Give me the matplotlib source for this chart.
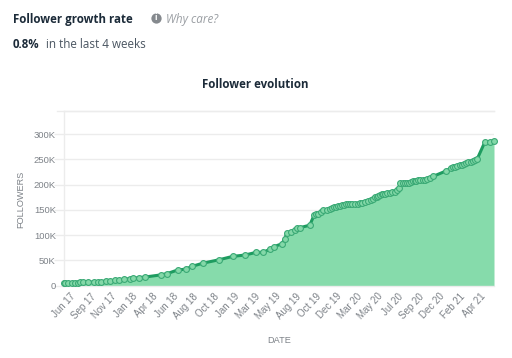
# -*- coding: utf-8 -*-
import matplotlib
matplotlib.use('Agg')
import matplotlib.pyplot as plt

# ================================== DATA =================================== #
# days since the first point, followers in thousands
DAYS = [0, 6, 17, 28, 40, 49, 57, 66, 86, 106, 118, 129, 145, 160, 178, 193,
        209, 229, 241, 260, 283, 335, 358, 395, 422, 442, 482, 537, 584, 627,
        665, 690, 712, 727, 753, 764, 770, 784, 799, 807, 818, 850, 865, 872,
        879, 888, 896, 908, 919, 926, 933, 941, 948, 954, 960, 968, 975, 982,
        988, 997, 1006, 1015, 1023, 1032, 1040, 1052, 1063, 1069, 1075, 1081,
        1086, 1092, 1098, 1104, 1109, 1118, 1126, 1135, 1144, 1152, 1158,
        1163, 1171, 1178, 1186, 1193, 1199, 1205, 1212, 1218, 1225, 1232,
        1240, 1247, 1256, 1265, 1276, 1320, 1336, 1343, 1351, 1360, 1368,
        1375, 1382, 1390, 1397, 1405, 1414, 1421, 1428, 1454, 1472, 1486]
FOLLOWERS = [4.7, 4.9, 5.0, 5.3, 5.6, 6.0, 6.6, 6.7, 6.8, 7.3, 7.4, 7.6, 9.3,
             9.8, 10.7, 11.3, 12.7, 14.0, 14.7, 16.0, 17.3, 21.3, 24.0, 31.3,
             32.7, 38.0, 44.7, 51.3, 58.0, 60.7, 66.0, 66.1, 72.1, 77.4, 82.7,
             92.6, 103.8, 106.5, 110.5, 113.8, 115.1, 119.7, 139.6, 141.0,
             142.2, 145.5, 148.8, 150.1, 152.1, 153.8, 155.4, 156.4, 157.4,
             158.4, 159.4, 160.5, 161.4, 161.8, 162.0, 162.0, 162.0, 162.3,
             162.7, 164.3, 166.0, 168.0, 170.0, 172.5, 174.6, 176.3, 177.9,
             179.3, 180.6, 181.3, 181.9, 182.6, 183.2, 184.5, 185.8, 189.0,
             193.0, 202.4, 202.4, 202.4, 202.4, 202.4, 204.5, 206.3, 207.0,
             207.7, 208.7, 209.7, 209.7, 209.7, 211.0, 212.3, 216.3, 226.9,
             232.8, 234.2, 235.4, 236.8, 238.1, 239.4, 240.7, 242.8, 244.7,
             245.3, 246.0, 248.2, 250.7, 283.7, 285.0, 286.3]
TICK_LABELS = ['Jun 17', 'Sep 17', 'Nov 17', 'Jan 18', 'Apr 18', 'Jun 18',
               'Aug 18', 'Oct 18', 'Jan 19', 'Mar 19', 'May 19', 'Aug 19',
               'Oct 19', 'Dec 19', 'Mar 20', 'May 20', 'Jul 20', 'Sep 20',
               'Dec 20', 'Feb 21', 'Apr 21']
Y_TICKS = [0, 50, 100, 150, 200, 250, 300]
Y_LABELS = ['0', '50K', '100K', '150K', '200K', '250K', '300K']

# ================================== STYLE ================================== #
W, H     = 512, 358
DARK     = '#1c2b39'
GRAY     = '#7d8288'
GRID     = '#ececec'
FILL     = '#86dbab'
LINE     = '#1e9c60'
DOT      = '#84d8a8'
HEADFONT = 'Open Sans'
AXISFONT = 'Liberation Sans'

# ================================== MAIN =================================== #
fig = plt.figure(figsize=(W/100, H/100), dpi=100)

# Plot area in pixels: left 63.5, right 494, top 111.3, bottom 285.7
ax = fig.add_axes([63.5/W, 1 - 285.7/H, (494 - 63.5)/W, (285.7 - 111.3)/H])
ax.set_xlim(0, 1486)
ax.set_ylim(0, 345)

ax.fill_between(DAYS, FOLLOWERS, 0, color=FILL, lw=0, zorder=2)
ax.plot(DAYS, FOLLOWERS, color=LINE, lw=2.2, zorder=3, clip_on=False)
ax.plot(DAYS, FOLLOWERS, ls='none', marker='o', ms=4.2, mfc=DOT, mec='#3aa975',
        mew=0.8, zorder=4, clip_on=False)

# Ticks sit evenly along the axis, one per label
step  = 70.7
ticks = [23 + step*i for i in range(len(TICK_LABELS))]
ax.set_xticks(ticks)
ax.set_xticklabels(TICK_LABELS, rotation=47, ha='right', rotation_mode='anchor',
                   fontsize=7, color=GRAY, family=AXISFONT)
ax.tick_params(axis='x', length=0, pad=4)

ax.set_yticks(Y_TICKS)
ax.set_yticklabels(Y_LABELS, fontsize=6.8, color=GRAY, family=AXISFONT)
ax.tick_params(axis='y', length=7, width=1, color=GRID, pad=-1.5)
ax.grid(axis='y', color=GRID, lw=1, zorder=1)
ax.set_axisbelow(True)

ax.spines['right'].set_visible(False)
for side in ['left', 'top', 'bottom']:
    ax.spines[side].set_color(GRID)
    ax.spines[side].set_linewidth(1)
ax.axhline(345, xmin=-7/430.5, color=GRID, lw=1, clip_on=False)

# Axis titles
fig.text(21/W, 1 - 199/H, 'FOLLOWERS', rotation=90, ha='center', va='center',
         fontsize=6.6, color=GRAY, family=AXISFONT)
fig.text(279/W, 1 - 340.5/H, 'DATE', ha='center', va='center',
         fontsize=6.6, color=GRAY, family=AXISFONT)

# Header block
fig.text(13/W, 1 - 19/H, 'Follower growth rate', ha='left', va='center',
         fontsize=8.3, fontweight='bold', color=DARK, family=HEADFONT)
fig.add_artist(plt.Line2D([156/W], [1 - 18/H], transform=fig.transFigure,
                          marker='o', ms=7.4, mfc='#85898e', mec='none',
                          ls='none'))
fig.text(156/W, 1 - 18/H, 'i', ha='center', va='center', fontsize=6,
         fontweight='bold', color='white', family=HEADFONT)
fig.text(165.5/W, 1 - 19/H, 'Why care?', ha='left', va='center', fontsize=8.4,
         style='italic', color='#9a9ea3', family=HEADFONT)
fig.text(13/W, 1 - 45/H, '0.8%', ha='left', va='center', fontsize=8.3,
         fontweight='bold', color=DARK, family=HEADFONT)
fig.text(46/W, 1 - 45/H, 'in the last 4 weeks', ha='left', va='center',
         fontsize=8.4, color='#4a5561', family=HEADFONT)
fig.text(255.5/W, 1 - 85/H, 'Follower evolution', ha='center', va='center',
         fontsize=8.3, fontweight='bold', color=DARK, family=HEADFONT)

fig.savefig('out.png', dpi=100)
